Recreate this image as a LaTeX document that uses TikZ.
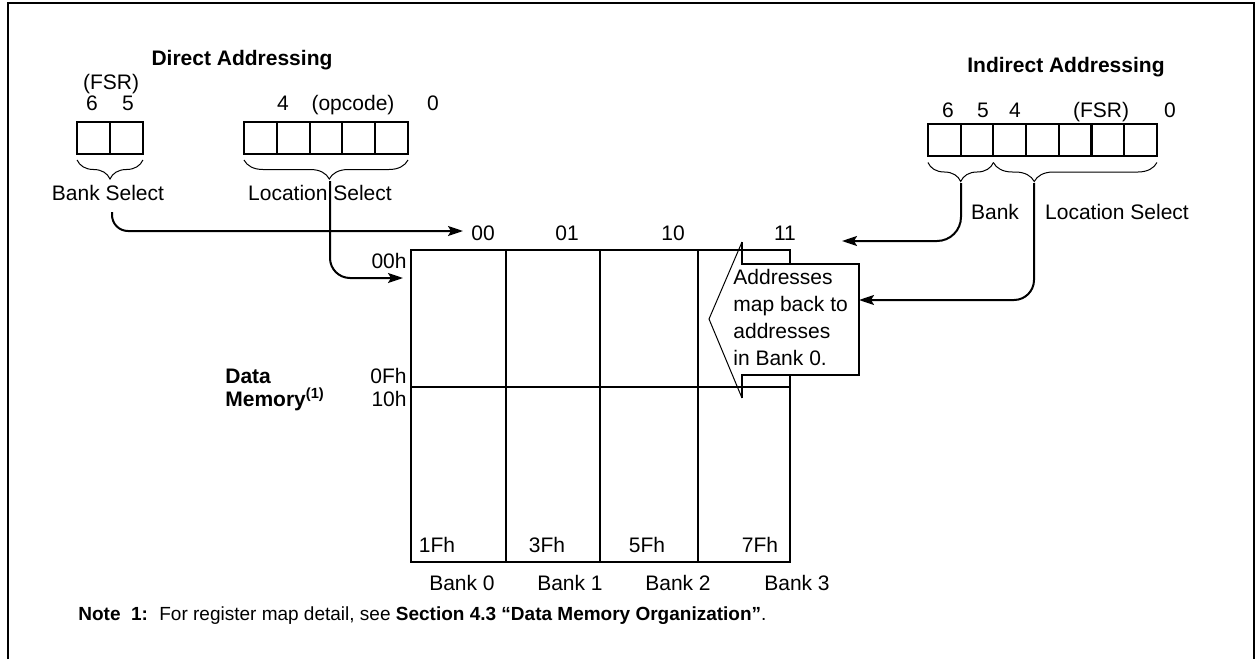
\documentclass[tikz,border=0pt]{standalone}
\usepackage{fontspec}
\setmainfont{Liberation Sans}
\usetikzlibrary{arrows.meta,positioning,calc,decorations.pathreplacing}
\tikzset{
  txt/.style={font=\fontsize{10.5}{12.6}\selectfont, inner sep=0pt, anchor=base},
  hdr/.style={txt, font=\fontsize{10.5}{12.6}\selectfont\bfseries},
  bit/.style={draw, line width=1pt, minimum width=16.4pt, minimum height=16pt,
              inner sep=0pt, outer sep=0pt},
  brc/.style={decorate, decoration={brace, mirror, amplitude=9.5pt}, line width=0.5pt},
  wire/.style={line width=1pt, rounded corners=10pt},
  arr/.style={wire, -{Stealth[length=7.5pt, width=5pt, inset=1.5pt]}},
  grid/.style={line width=1pt},
  thinln/.style={line width=0.5pt},
}

\begin{document}
\begin{tikzpicture}[x=0.5pt, y=-0.5pt]
  \useasboundingbox (0,0) rectangle (1259,659);
  % ---- frame ----
  \draw[line width=1.3pt] (8,659) -- (8,3) -- (1254,3) -- (1254,659);

  % ---- left: direct addressing ----
  \node[hdr] (dhead) at (242,65) {Direct Addressing};
  \node[txt] (dfsr) at (111,89) {(FSR)};
  \node[txt] (d6) at (92,110) {6};
  \node[txt] (d5) at (128,110) {5};
  \node[txt] (d4) at (283,110) {4};
  \node[txt] (dopc) at (353,110) {(opcode)};
  \node[txt] (d0) at (433,110) {0};
  \foreach \i in {1,2} \node[bit] (bs\i) at ({77+33*\i-16.5},138) {};
  \foreach \i in {1,...,5} \node[bit] (op\i) at ({244+32.8*\i-16.4},138) {};
  \draw[brc] ([yshift=-3pt]bs1.south west) -- ([yshift=-3pt]bs2.south east);
  \draw[brc, decoration={aspect=0.52}] ([yshift=-3pt]op1.south west) -- ([yshift=-3pt]op5.south east);
  \node[txt] (bsel) at (108,200) {Bank Select};
  \node[txt] (lsel) at (320,200) {Location Select};
  \coordinate (bstart) at (112,212);
  \coordinate (dltip) at (330,181);

  % ---- data memory ----
  \draw[grid] (411,250) rectangle (790,562);
  \foreach \x in {506,600,698} \draw[grid] (\x,250) -- (\x,562);
  \draw[grid] (411,387) -- (790,387);
  \node[txt] (c00) at (483,240) {00};
  \node[txt] (c01) at (567,240) {01};
  \node[txt] (c10) at (673,240) {10};
  \node[txt] (c11) at (785,240) {11};
  \node[txt, anchor=base east] (a00) at (407,268) {00h};
  \node[txt, anchor=base east] (a0f) at (407,383) {0Fh};
  \node[txt, anchor=base east] (a10) at (407,406) {10h};
  \node[hdr, anchor=base west] (dmem1) at (225,383) {Data};
  \node[hdr, anchor=base west] (dmem2) at (225,406) {Memory\textsuperscript{(1)}};
  \foreach \n/\x/\t in {e0/437/1Fh, e1/547/3Fh, e2/647/5Fh, e3/760/7Fh}
    \node[txt] (\n) at (\x,552) {\t};
  \foreach \n/\x/\t in {k0/462/Bank 0, k1/570/Bank 1, k2/678/Bank 2, k3/797/Bank 3}
    \node[txt] (\n) at (\x,590) {\t};

  % callout over bank 3
  \fill[white] (742,264) rectangle (859,375);
  \draw[grid] (742,242) -- (742,264) -- (859,264) -- (859,375) -- (742,375) -- (742,398);
  \draw[thinln] (742,398) -- (709,319) -- (742,242);
  \node[txt, anchor=north west, align=left, font=\fontsize{10.5}{13.5}\selectfont]
    (remap) at (733,269) {Addresses\\map back to\\addresses\\in Bank 0.};
  \coordinate (rtip) at (859,300);

  % ---- right: indirect addressing ----
  \node[hdr] (ihead) at (1066,72) {Indirect Addressing};
  \node[txt] (i6) at (948,117) {6};
  \node[txt] (i5) at (983,117) {5};
  \node[txt] (i4) at (1015,117) {4};
  \node[txt] (ifsr) at (1101,117) {(FSR)};
  \node[txt] (i0) at (1170,117) {0};
  \foreach \i in {1,...,7} \node[bit] (ir\i) at ({928+32.7*\i-16.35},139.5) {};
  \draw[brc] ([yshift=-3.5pt]ir1.south west) -- ([yshift=-3.5pt]ir2.south east);
  \draw[brc, decoration={aspect=0.25}] ([yshift=-3.5pt]ir3.south west) -- ([yshift=-3.5pt]ir7.south east);
  \node[txt] (ibank) at (995,219) {Bank};
  \node[txt] (iloc) at (1117,219) {Location Select};
  \coordinate (ibtip) at (961,183);
  \coordinate (iltip) at (1034,183);

  % ---- connectors ----
  \coordinate (b00) at (463,231);
  \coordinate (b11) at (842,241);
  \coordinate (m00in) at (403,278);
  \draw[arr, rounded corners=8pt] (bstart) |- (b00);
  \draw[arr] (dltip) |- (m00in);
  \draw[arr, rounded corners=12pt] (ibtip) |- (b11);
  \draw[arr] (iltip) |- (rtip);

  % ---- note ----
  \node[txt, anchor=base west, font=\fontsize{9.5}{11.4}\selectfont] (note) at (78,620)
    {\textbf{Note\hspace{0.55em}1:}\hspace{0.6em}For register map detail, see \textbf{Section 4.3 “Data Memory Organization”}.};
\end{tikzpicture}
\end{document}
